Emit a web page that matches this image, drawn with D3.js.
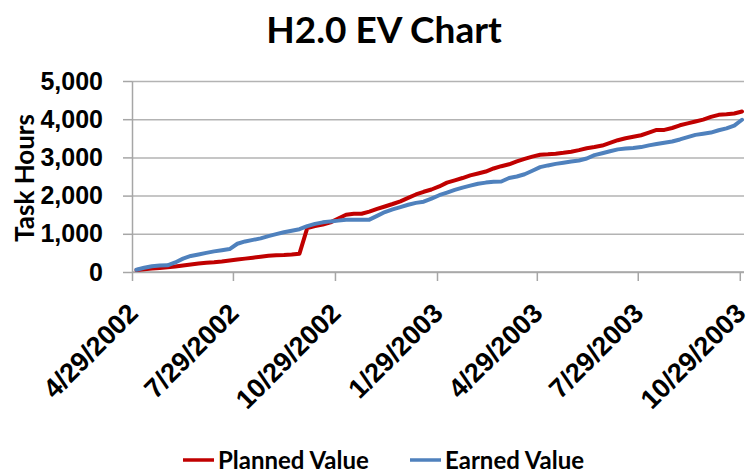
<!doctype html>
<html lang="en">
<head>
<meta charset="utf-8">
<script src="https://d3js.org/d3.v7.min.js"></script>
<title>H2.0 EV Chart</title>
<style>
  body { margin: 0; background: #fff; }
  svg { display: block; font-family: Lato, "Open Sans", sans-serif; }
  .grid line { stroke: #b3b3b3; stroke-width: 1.5; }
  .grid path { display: none; }
  .axis path, .axis line { stroke: #a6a6a6; stroke-width: 1.5; }
  .axis text { font-weight: bold; fill: #000; }
  .series { fill: none; stroke-width: 4; stroke-linejoin: round; stroke-linecap: round; }
</style>
</head>
<body>
<div id="chart"></div>
<script>
// weekly status dates (Fridays)
const weeks = [
  "2002-05-03","2002-05-10","2002-05-17","2002-05-24","2002-05-31","2002-06-07","2002-06-14",
  "2002-06-21","2002-06-28","2002-07-05","2002-07-12","2002-07-19","2002-07-26","2002-08-02",
  "2002-08-09","2002-08-16","2002-08-23","2002-08-30","2002-09-06","2002-09-13","2002-09-20",
  "2002-09-27","2002-10-04","2002-10-11","2002-10-18","2002-10-25","2002-11-01","2002-11-08",
  "2002-11-15","2002-11-22","2002-11-29","2002-12-06","2002-12-13","2002-12-20","2002-12-27",
  "2003-01-03","2003-01-10","2003-01-17","2003-01-24","2003-01-31","2003-02-07","2003-02-14",
  "2003-02-21","2003-02-28","2003-03-07","2003-03-14","2003-03-21","2003-03-28","2003-04-04",
  "2003-04-11","2003-04-18","2003-04-25","2003-05-02","2003-05-09","2003-05-16","2003-05-23",
  "2003-05-30","2003-06-06","2003-06-13","2003-06-20","2003-06-27","2003-07-04","2003-07-11",
  "2003-07-18","2003-07-25","2003-08-01","2003-08-08","2003-08-15","2003-08-22","2003-08-29",
  "2003-09-05","2003-09-12","2003-09-19","2003-09-26","2003-10-03","2003-10-10","2003-10-17",
  "2003-10-24","2003-10-31"
];

const plannedValue = [
  50, 70, 90, 105, 125, 145, 170, 195, 220, 240, 255, 275, 300, 325, 350, 375, 400, 425, 440, 445,
  460, 480, 1150, 1200, 1240, 1300, 1400, 1500, 1525, 1525, 1580, 1650, 1715, 1780, 1850, 1940,
  2030, 2100, 2160, 2240, 2340, 2400, 2460, 2530, 2580, 2630, 2710, 2770, 2820, 2895, 2960, 3020,
  3070, 3080, 3095, 3120, 3150, 3190, 3240, 3270, 3310, 3380, 3450, 3500, 3540, 3580, 3650, 3720,
  3720, 3770, 3840, 3890, 3940, 3990, 4060, 4115, 4130, 4150, 4200
];

const earnedValue = [
  60, 110, 150, 170, 175, 250, 350, 420, 460, 500, 540, 570, 600, 740, 800, 840, 880, 940, 990, 1040,
  1080, 1120, 1200, 1260, 1300, 1325, 1345, 1370, 1370, 1370, 1370, 1470, 1570, 1640, 1700, 1760,
  1810, 1840, 1920, 2010, 2080, 2150, 2210, 2260, 2310, 2340, 2360, 2370, 2460, 2500, 2560, 2650,
  2745, 2790, 2830, 2860, 2890, 2920, 2970, 3060, 3110, 3160, 3210, 3230, 3245, 3270, 3315, 3350,
  3385, 3415, 3470, 3530, 3590, 3620, 3650, 3710, 3760, 3830, 3985
];

const xTicks = ["2002-04-29","2002-07-29","2002-10-29","2003-01-29","2003-04-29","2003-07-29","2003-10-29"];
const xTickLabels = ["4/29/2002","7/29/2002","10/29/2002","1/29/2003","4/29/2003","7/29/2003","10/29/2003"];
const yTicks = [0, 1000, 2000, 3000, 4000, 5000];

const seriesNames = ["Planned Value", "Earned Value"];
const seriesColors = ["#c00000", "#4f81bd"];

const width = 753, height = 473;
const margin = {top: 81, right: 11, bottom: 201, left: 132};
const parse = d3.utcParse("%Y-%m-%d");

const svg = d3.select("#chart").append("svg")
  .attr("width", width)
  .attr("height", height);

const x = d3.scaleUtc()
  .domain([parse(xTicks[0]), parse(weeks[weeks.length - 1])])
  .range([margin.left, width - margin.right]);

const y = d3.scaleLinear()
  .domain([0, 5000])
  .range([height - margin.bottom, margin.top]);

// title
svg.append("text")
  .attr("x", 384)
  .attr("y", 43)
  .attr("text-anchor", "middle")
  .style("font-size", "37px")
  .style("font-weight", "bold")
  .text("H2.0 EV Chart");

// gridlines
svg.append("g")
  .attr("class", "grid")
  .attr("transform", "translate(" + margin.left + ",0)")
  .call(d3.axisLeft(y).tickValues(yTicks).tickSize(-(width - margin.right - margin.left + 2)).tickFormat(""));

// y axis
const yAxis = svg.append("g")
  .attr("class", "axis")
  .attr("transform", "translate(" + margin.left + ",0)")
  .call(d3.axisLeft(y).tickValues(yTicks).tickSize(9).tickSizeOuter(0).tickPadding(20).tickFormat(d3.format(",")));
yAxis.selectAll("text").style("font-size", "25px");

// x axis
const xAxis = svg.append("g")
  .attr("class", "axis")
  .attr("transform", "translate(0," + y(0) + ")")
  .call(d3.axisBottom(x)
    .tickValues(xTicks.map(parse))
    .tickSize(9)
    .tickSizeOuter(0)
    .tickFormat((d, i) => xTickLabels[i]));
xAxis.select(".domain").attr("d", "M" + margin.left + ",0H" + (width - margin.right + 2));
xAxis.selectAll("text")
  .attr("text-anchor", "end")
  .attr("dy", null)
  .attr("y", null)
  .attr("transform", "translate(7,43) rotate(-45)")
  .style("font-size", "27px");

// y axis title
svg.append("text")
  .attr("transform", "translate(34,178) rotate(-90)")
  .attr("text-anchor", "middle")
  .style("font-size", "26px")
  .style("font-weight", "bold")
  .text("Task Hours");

// lines
const line = d3.line()
  .x((d, i) => x(parse(weeks[i])))
  .y(d => y(d));

[plannedValue, earnedValue].forEach((vals, s) => {
  svg.append("path")
    .datum(vals)
    .attr("class", "series")
    .attr("stroke", seriesColors[s])
    .attr("d", line);
});

// legend
const legendX = [183, 410];
const legend = svg.append("g").attr("class", "legend");
seriesNames.forEach((name, s) => {
  const g = legend.append("g").attr("transform", "translate(" + legendX[s] + ",460)");
  g.append("line")
    .attr("x1", 0).attr("x2", 31)
    .attr("stroke", seriesColors[s])
    .attr("stroke-width", 3.5);
  g.append("text")
    .attr("x", 35)
    .attr("y", 9)
    .style("font-size", "24px")
    .style("font-weight", "bold")
    .text(name);
});
</script>
</body>
</html>
